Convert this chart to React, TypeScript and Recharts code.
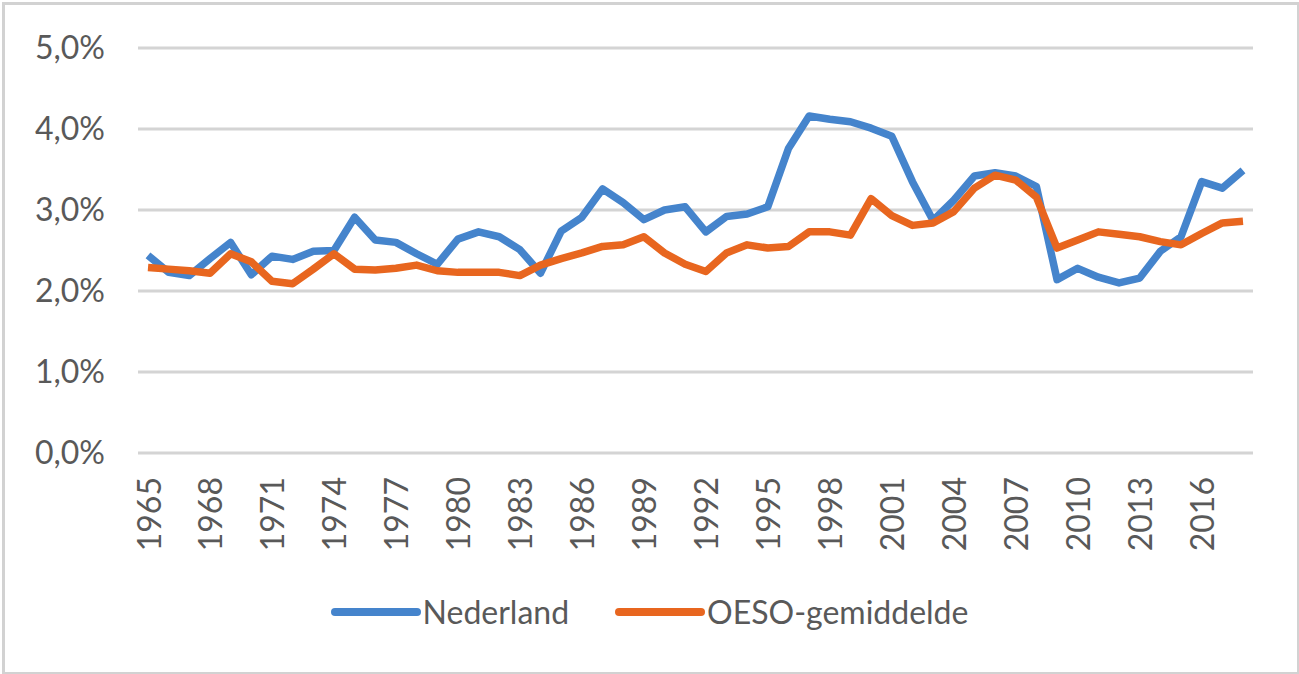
import React from 'react';
import { LineChart, Line, XAxis, YAxis, CartesianGrid, Legend } from 'recharts';

const years = [
  '1965', '1966', '1967', '1968', '1969', '1970', '1971', '1972', '1973', '1974',
  '1975', '1976', '1977', '1978', '1979', '1980', '1981', '1982', '1983', '1984',
  '1985', '1986', '1987', '1988', '1989', '1990', '1991', '1992', '1993', '1994',
  '1995', '1996', '1997', '1998', '1999', '2000', '2001', '2002', '2003', '2004',
  '2005', '2006', '2007', '2008', '2009', '2010', '2011', '2012', '2013', '2014',
  '2015', '2016', '2017', '2018',
];

// percentages
const nederland = [
  2.44, 2.23, 2.19, 2.40, 2.60, 2.20, 2.43, 2.39, 2.49, 2.50,
  2.91, 2.63, 2.60, 2.46, 2.33, 2.64, 2.73, 2.67, 2.51, 2.22,
  2.74, 2.91, 3.26, 3.09, 2.88, 3.00, 3.04, 2.73, 2.92, 2.95,
  3.04, 3.76, 4.16, 4.12, 4.09, 4.01, 3.91, 3.35, 2.87, 3.12,
  3.42, 3.46, 3.42, 3.29, 2.14, 2.28, 2.17, 2.10, 2.16, 2.49,
  2.67, 3.35, 3.27, 3.49,
];

const oeso = [
  2.29, 2.27, 2.25, 2.22, 2.46, 2.36, 2.12, 2.09, 2.27, 2.46,
  2.27, 2.26, 2.28, 2.32, 2.25, 2.23, 2.23, 2.23, 2.19, 2.32,
  2.40, 2.47, 2.55, 2.57, 2.67, 2.47, 2.33, 2.24, 2.47, 2.57,
  2.53, 2.55, 2.73, 2.73, 2.69, 3.14, 2.93, 2.81, 2.84, 2.98,
  3.27, 3.43, 3.37, 3.16, 2.53, 2.63, 2.73, 2.70, 2.67, 2.61,
  2.57, 2.71, 2.84, 2.86,
];

const yTicks = [0, 1, 2, 3, 4, 5];

const BLUE = '#4584CC';
const ORANGE = '#E8661F';
const TEXT = '#595959';
const FONT = 'Lato, "Liberation Sans", sans-serif';

const data = years.map((year, i) => ({
  year,
  Nederland: nederland[i],
  'OESO-gemiddelde': oeso[i],
}));

const fmtPct = (v: number) => `${v.toFixed(1).replace('.', ',')}%`;

const YearTick = (props: any) => {
  const { x, y, payload } = props;
  return (
    <text
      x={x}
      y={y}
      transform={`rotate(-90, ${x}, ${y})`}
      textAnchor="end"
      dominantBaseline="central"
      fill={TEXT}
      fontSize={32}
      fontFamily={FONT}
    >
      {payload.value}
    </text>
  );
};

const renderLegend = () => {
  const items = [
    { name: 'Nederland', color: BLUE },
    { name: 'OESO-gemiddelde', color: ORANGE },
  ];
  return (
    <div style={{ display: 'flex', justifyContent: 'center', alignItems: 'center', gap: 46 }}>
      {items.map((it) => (
        <div key={it.name} style={{ display: 'flex', alignItems: 'center' }}>
          <svg width={90} height={12} style={{ marginRight: 2 }}>
            <line x1={4} y1={6} x2={86} y2={6} stroke={it.color} strokeWidth={8} strokeLinecap="round" />
          </svg>
          <span style={{ fontFamily: FONT, fontSize: 32, color: TEXT }}>{it.name}</span>
        </div>
      ))}
    </div>
  );
};

export default function App() {
  return (
    <div style={{ position: 'absolute', left: 0, top: 0, width: 1299, height: 674, background: '#fff' }}>
      <div
        style={{
          position: 'absolute',
          left: 2,
          top: 2,
          width: 1292,
          height: 667,
          border: '3px solid #d2d2d2',
          boxSizing: 'content-box',
        }}
      />
      <LineChart
        width={1299}
        height={674}
        data={data}
        margin={{ top: 48, right: 46, bottom: 0, left: 0 }}
        style={{ position: 'absolute', left: 0, top: 0 }}
      >
        <CartesianGrid vertical={false} stroke="#d4d4d4" strokeWidth={3} />
        <XAxis
          dataKey="year"
          interval={2}
          height={221}
          padding={{ left: 10, right: 10 }}
          axisLine={false}
          tickLine={false}
          tickSize={0}
          tickMargin={24}
          tick={<YearTick />}
        />
        <YAxis
          domain={[0, 5]}
          ticks={yTicks}
          width={138}
          axisLine={false}
          tickLine={false}
          tickSize={0}
          tickMargin={33}
          tickFormatter={fmtPct}
          tick={{ fill: TEXT, fontSize: 32, fontFamily: FONT }}
        />
        <Legend
          layout="vertical"
          align="center"
          verticalAlign="middle"
          content={renderLegend}
          wrapperStyle={{ top: 592, left: 0, width: 1299 }}
        />
        <Line
          type="linear"
          dataKey="Nederland"
          stroke={BLUE}
          strokeWidth={7.5}
          strokeLinejoin="round"
          dot={false}
          activeDot={false}
          isAnimationActive={false}
        />
        <Line
          type="linear"
          dataKey="OESO-gemiddelde"
          stroke={ORANGE}
          strokeWidth={7.5}
          strokeLinejoin="round"
          dot={false}
          activeDot={false}
          isAnimationActive={false}
        />
      </LineChart>
    </div>
  );
}
